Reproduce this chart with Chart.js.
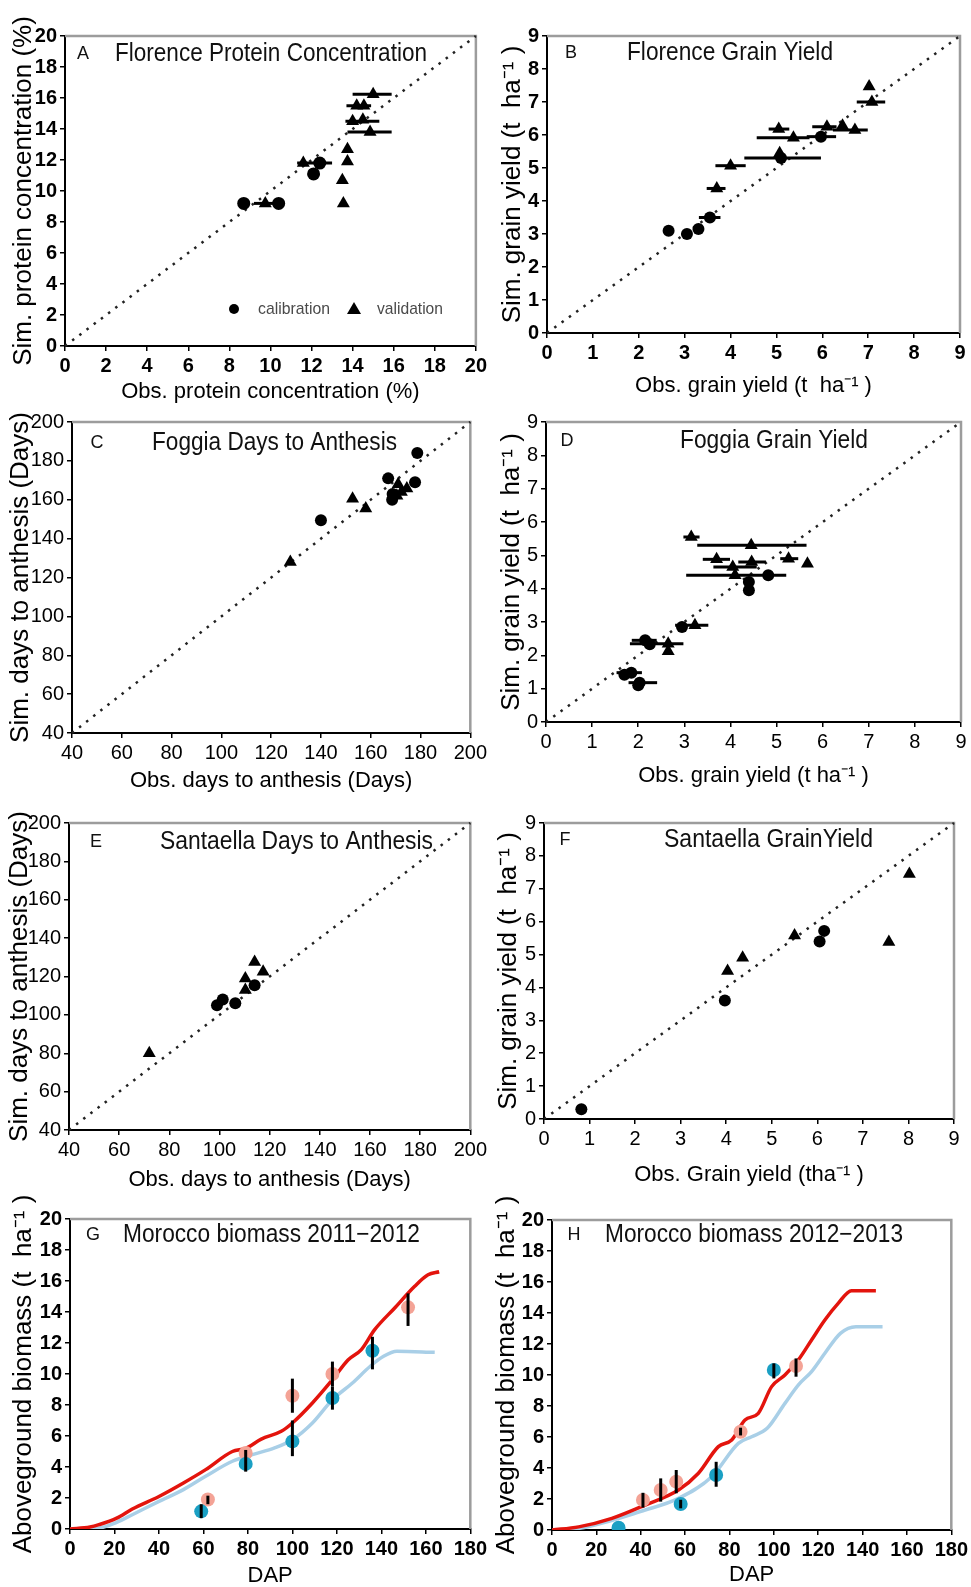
<!DOCTYPE html>
<html>
<head>
<meta charset="utf-8">
<script src="https://cdn.jsdelivr.net/npm/chart.js@4.4.1/dist/chart.umd.min.js"></script>
<style>
  html, body { margin: 0; padding: 0; background: #fff; }
  body { position: relative; width: 971px; height: 1587px; overflow: hidden; }
</style>
</head>
<body>
<script>
// ---- tick labels ----
const protTicks = [0, 2, 4, 6, 8, 10, 12, 14, 16, 18, 20];
const yieldTicks = [0, 1, 2, 3, 4, 5, 6, 7, 8, 9];
const dayTicks = [40, 60, 80, 100, 120, 140, 160, 180, 200];
const dapTicks = [0, 20, 40, 60, 80, 100, 120, 140, 160, 180];
const biomassTicks = [0, 2, 4, 6, 8, 10, 12, 14, 16, 18, 20];

// ---- A: Florence protein concentration (%) ----
const aCalObs = [8.7, 10.4, 12.1, 12.4];
const aCalSim = [9.2, 9.2, 11.1, 11.8];
const aCalLo  = [null, null, null, 11.3];
const aCalHi  = [null, null, null, 13.0];
const aValObs = [9.75, 11.6, 13.55, 13.5, 13.75, 13.75, 14.85, 14.0, 14.5, 14.2, 14.55, 15.0];
const aValSim = [9.2, 11.8, 9.2, 10.7, 11.9, 12.7, 13.8, 14.5, 14.6, 15.5, 15.5, 16.25];
const aValLo  = [9.2, null, null, null, null, null, 13.75, 13.65, null, 13.7, null, 14.0];
const aValHi  = [10.3, null, null, null, null, null, 15.9, 15.3, null, 14.9, null, 15.9];

// ---- B: Florence grain yield (t/ha) ----
const bCalObs = [2.65, 3.05, 3.3, 3.55, 5.1, 5.97];
const bCalSim = [3.1, 3.0, 3.15, 3.5, 5.3, 5.95];
const bCalLo  = [null, null, null, 3.31, 4.3, 5.66];
const bCalHi  = [null, null, null, 3.78, 5.97, 6.3];
const bValObs = [3.7, 4.0, 5.07, 5.05, 5.37, 6.1, 6.44, 6.71, 7.08, 7.02];
const bValSim = [4.38, 5.07, 5.45, 6.18, 5.92, 6.25, 6.28, 6.15, 7.0, 7.47];
const bValLo  = [3.48, 3.67, null, 4.83, 4.57, 5.78, null, 6.23, 6.75, null];
const bValHi  = [3.89, 4.33, null, 5.28, 5.72, 6.31, null, 6.99, 7.37, null];

// ---- C: Foggia days to anthesis ----
const cCalObs = [140, 167, 168.6, 168.8, 177.8, 178.7];
const cCalSim = [149.5, 171, 160, 163, 169, 184];
const cValObs = [127.7, 152.7, 158, 170.5, 171, 172.3, 174.5];
const cValSim = [128, 160.5, 155.5, 162, 168, 164, 165.8];

// ---- D: Foggia grain yield (t/ha) ----
const dCalObs = [1.7, 1.85, 2.0, 2.03, 2.15, 2.25, 2.95, 4.4, 4.4, 4.82];
const dCalSim = [1.42, 1.48, 1.1, 1.18, 2.45, 2.33, 2.85, 4.2, 3.95, 4.4];
const dCalLo  = [null, 1.53, null, 1.79, 1.86, null, null, null, null, null];
const dCalHi  = [null, 2.08, null, 2.41, 2.4, null, null, null, null, null];
const dValObs = [3.15, 4.45, 3.7, 4.46, 5.26, 5.67, 4.05, 4.1, 3.23, 2.65, 2.65];
const dValSim = [5.55, 5.3, 4.88, 4.8, 4.9, 4.75, 4.65, 4.4, 2.9, 2.35, 2.12];
const dValLo  = [2.98, 3.28, 3.4, 4.17, 5.08, null, 3.63, 3.04, 2.8, 1.82, null];
const dValHi  = [3.33, 5.65, 3.99, 4.77, 5.47, null, 4.57, 5.21, 3.52, 2.98, null];

// ---- E: Santaella days to anthesis ----
const eCalObs = [99, 101.3, 106.3, 114];
const eCalSim = [105, 108, 106, 115.5];
const eValObs = [72, 110.3, 110.3, 114, 117.4];
const eValSim = [80, 113, 119, 127.5, 122.5];

// ---- F: Santaella grain yield (t/ha) ----
const fCalObs = [0.82, 3.97, 6.05, 6.15];
const fCalSim = [0.3, 3.6, 5.4, 5.72];
const fValObs = [4.03, 4.36, 5.5, 7.57, 8.02];
const fValSim = [4.5, 4.9, 5.58, 5.38, 7.45];

// ---- G: Morocco biomass 2011-2012 ----
const gRedDap  = [0, 9, 13, 21, 28, 40, 51, 61, 73, 79, 86, 95, 100, 109, 118, 125, 131, 137, 146, 155, 161, 166];
const gRedSim  = [0, 0.13, 0.28, 0.7, 1.29, 2.1, 2.97, 3.83, 5.0, 5.2, 5.8, 6.3, 6.84, 8.13, 9.63, 10.9, 11.57, 12.86, 14.26, 15.66, 16.4, 16.6];
const gBlueDap = [0, 13, 21, 28, 40, 51, 61, 73, 82, 92, 100, 109, 118, 127, 135, 141, 147, 164];
const gBlueSim = [0, 0.06, 0.43, 0.92, 1.78, 2.54, 3.4, 4.37, 4.8, 5.23, 5.76, 6.84, 8.34, 9.42, 10.5, 11.14, 11.46, 11.4];
const gRedObsDap = [62, 79, 100, 118, 152];
const gRedObs    = [1.9, 4.9, 8.6, 10.0, 14.3];
const gRedLo     = [1.6, null, 7.5, 9.2, 13.1];
const gRedHi     = [2.15, null, 9.7, 10.8, 15.2];
const gBlueObsDap = [59, 79, 100, 118, 136];
const gBlueObs    = [1.14, 4.2, 5.65, 8.45, 11.5];
const gBlueLo     = [0.7, 3.7, 4.7, 7.7, 10.3];
const gBlueHi     = [1.6, 5.1, 7.0, 9.2, 12.4];

// ---- H: Morocco biomass 2012-2013 ----
const hRedDap  = [0, 12, 27, 42, 57, 66, 75, 81, 87, 93, 99, 105, 111, 117, 123, 129, 135, 146];
const hRedSim  = [0, 0.2, 0.75, 1.61, 2.58, 3.66, 5.38, 5.81, 7.1, 7.53, 9.25, 10.0, 10.97, 12.26, 13.55, 14.62, 15.44, 15.44];
const hBlueDap = [0, 12, 42, 57, 72, 84, 90, 97, 105, 111, 117, 123, 130, 137, 149];
const hBlueSim = [0, 0.1, 1.29, 2.04, 3.44, 5.59, 6.02, 6.56, 8.17, 9.35, 10.22, 11.4, 12.69, 13.12, 13.12];
const hRedObsDap = [41, 49, 56, 85, 110];
const hRedObs    = [1.94, 2.58, 3.12, 6.34, 10.58];
const hRedLo     = [1.45, 1.83, 2.37, 6.1, 9.89];
const hRedHi     = [2.4, 3.33, 3.87, 6.6, 11.07];
const hBlueObsDap = [30, 58, 74, 100];
const hBlueObs    = [0.15, 1.68, 3.55, 10.32];
const hBlueLo     = [null, 1.4, 2.79, 9.78];
const hBlueHi     = [null, 1.95, 4.4, 10.75];

const FONT = "'Liberation Sans Narrow', 'Liberation Sans', Arial, sans-serif";
const RED = '#e3140d', BLUE = '#a9cfe7', SALMON = '#f4a396', TEAL = '#1aa0c4';

function pts(xs, ys) { return xs.map((x, i) => ({x: x, y: ys[i]})); }

function marker(xs, ys, style, r, color, lo, hi, dir, clip) {
  return {
    data: pts(xs, ys), pointStyle: style, pointRadius: r, pointHoverRadius: r,
    backgroundColor: color, borderColor: color, borderWidth: 0,
    showLine: false, lo: lo, hi: hi, barDir: dir, clip: clip
  };
}

function curve(xs, ys, color) {
  return {
    data: pts(xs, ys), showLine: true, pointRadius: 0, borderColor: color,
    borderWidth: 3.5, cubicInterpolationMode: 'monotone', fill: false
  };
}

function diagonal(ticks) {
  const lo = ticks[0], hi = ticks[ticks.length - 1];
  return {
    data: [{x: lo, y: lo}, {x: hi, y: hi}], showLine: true, pointRadius: 0,
    borderColor: '#222', borderWidth: 2.5, borderDash: [2.5, 6.5], clip: false
  };
}

// error bars: horizontal (obs) or vertical (biomass)
const errorBars = {
  id: 'errorBars',
  afterDatasetsDraw(chart) {
    const ctx = chart.ctx, xs = chart.scales.x, ys = chart.scales.y;
    chart.data.datasets.forEach(ds => {
      if (!ds.lo) return;
      ctx.save();
      ctx.strokeStyle = '#000';
      ctx.lineWidth = 3;
      ds.data.forEach((p, j) => {
        if (ds.lo[j] == null) return;
        ctx.beginPath();
        if (ds.barDir === 'x') {
          const y = ys.getPixelForValue(p.y);
          ctx.moveTo(xs.getPixelForValue(ds.lo[j]), y);
          ctx.lineTo(xs.getPixelForValue(ds.hi[j]), y);
        } else {
          const x = xs.getPixelForValue(p.x);
          ctx.moveTo(x, ys.getPixelForValue(ds.lo[j]));
          ctx.lineTo(x, ys.getPixelForValue(ds.hi[j]));
        }
        ctx.stroke();
      });
      ctx.restore();
    });
  }
};

// grey frame on top and right
const frame = {
  id: 'frame',
  beforeDatasetsDraw(chart) {
    const a = chart.chartArea, ctx = chart.ctx;
    ctx.save();
    ctx.strokeStyle = '#9c9c9c';
    ctx.lineWidth = 2.5;
    ctx.beginPath();
    ctx.moveTo(a.left, a.top);
    ctx.lineTo(a.right, a.top);
    ctx.lineTo(a.right, a.bottom);
    ctx.stroke();
    ctx.restore();
  }
};

// panel letter + title inside plot
const header = {
  id: 'header',
  afterDraw(chart, args, o) {
    if (!o.title) return;
    const ctx = chart.ctx;
    ctx.save();
    ctx.fillStyle = '#111';
    ctx.textBaseline = 'middle';
    ctx.textAlign = 'center';
    ctx.font = '18px ' + FONT;
    ctx.fillText(o.letter, o.lx, o.y);
    ctx.textAlign = 'left';
    ctx.font = '25px ' + FONT;
    ctx.fillText(o.title, o.tx, o.y, o.tw);
    ctx.restore();
  }
};

// little legend of panel A
const calValLegend = {
  id: 'calValLegend',
  afterDraw(chart, args, o) {
    if (!o.show) return;
    const ctx = chart.ctx;
    ctx.save();
    ctx.fillStyle = '#000';
    ctx.beginPath();
    ctx.arc(o.c1, o.y, 5, 0, Math.PI * 2);
    ctx.fill();
    ctx.beginPath();
    ctx.moveTo(o.c2, o.y - 7);
    ctx.lineTo(o.c2 + 7, o.y + 5);
    ctx.lineTo(o.c2 - 7, o.y + 5);
    ctx.closePath();
    ctx.fill();
    ctx.fillStyle = '#4a4a4a';
    ctx.font = '17px ' + FONT;
    ctx.textBaseline = 'middle';
    ctx.fillText('calibration', o.t1, o.y, o.w1);
    ctx.fillText('validation', o.t2, o.y, o.w2);
    ctx.restore();
  }
};

function axis(ticks, title, titleSize, titlePad, tickFont, fit) {
  return {
    type: 'linear',
    min: ticks[0],
    max: ticks[ticks.length - 1],
    afterBuildTicks: s => { s.ticks = ticks.map(v => ({value: v})); },
    ticks: {autoSkip: false, maxRotation: 0, color: '#000', font: tickFont, padding: 3},
    grid: {drawOnChartArea: false, drawTicks: true, tickLength: 5, color: '#000', lineWidth: 1.5},
    border: {display: true, color: '#000', width: 2},
    title: {display: true, text: title, color: '#000', font: {family: FONT, size: titleSize}, padding: titlePad},
    afterFit: fit
  };
}

function makePanel(p) {
  const [bx, by, bw, bh] = p.box;
  const [l, t, r, b] = p.plot;
  const cv = document.createElement('canvas');
  cv.width = bw;
  cv.height = bh;
  cv.style.cssText = 'position:absolute;left:' + bx + 'px;top:' + by + 'px;width:' + bw + 'px;height:' + bh + 'px';
  document.body.appendChild(cv);

  const xSize = 22, ySize = 26;
  const xPad = {top: 0, bottom: (by + bh) - p.xTitleY - xSize * 0.6};
  const yPad = {top: p.yTitleX - bx - ySize * 0.6, bottom: 0};
  const h = p.header;

  new Chart(cv, {
    type: 'scatter',
    data: {datasets: p.datasets},
    plugins: [frame, errorBars, header, calValLegend],
    options: {
      responsive: false,
      animation: false,
      events: [],
      layout: {padding: {left: 0, top: t - by, right: bx + bw - r, bottom: 0}},
      plugins: {
        legend: {display: false},
        tooltip: {enabled: false},
        header: {letter: h.letter, lx: h.lx - bx, title: h.title, tx: h.tx - bx, tw: h.tw, y: h.y - by},
        calValLegend: p.legend
          ? {show: true, c1: 234 - bx, t1: 258 - bx, w1: 72, c2: 354 - bx, t2: 377 - bx, w2: 66, y: 309 - by}
          : {show: false}
      },
      scales: {
        x: axis(p.xTicks, p.xTitle, xSize, xPad, p.tickFont, s => { s.height = by + bh - b; }),
        y: axis(p.yTicks, p.yTitle, ySize, yPad, p.tickFont, s => { s.width = l - bx; })
      }
    }
  });
}

const boldTicks = {family: FONT, size: 20, weight: 'bold'};
const plainTicks = {family: FONT, size: 20};

makePanel({
  box: [0, 0, 490, 409], plot: [65, 36, 477, 346],
  xTicks: protTicks, yTicks: protTicks, tickFont: boldTicks,
  xTitle: 'Obs. protein concentration (%)', yTitle: 'Sim. protein concentration (%)',
  xTitleY: 392, yTitleX: 24, legend: true,
  header: {letter: 'A', lx: 83, title: 'Florence Protein Concentration', tx: 115, tw: 312, y: 54},
  datasets: [
    marker(aCalObs, aCalSim, 'circle', 6.5, '#000', aCalLo, aCalHi, 'x', false),
    marker(aValObs, aValSim, 'triangle', 7.5, '#000', aValLo, aValHi, 'x', false),
    diagonal(protTicks)
  ]
});

makePanel({
  box: [490, 0, 481, 403], plot: [547, 36, 960, 333],
  xTicks: yieldTicks, yTicks: yieldTicks, tickFont: boldTicks,
  xTitle: 'Obs. grain yield (t  ha\u207B\u00B9 )', yTitle: 'Sim. grain yield (t  ha\u207B\u00B9 )',
  xTitleY: 386, yTitleX: 513,
  header: {letter: 'B', lx: 571, title: 'Florence Grain Yield', tx: 627, tw: 206, y: 53},
  datasets: [
    marker(bCalObs, bCalSim, 'circle', 6, '#000', bCalLo, bCalHi, 'x', false),
    marker(bValObs, bValSim, 'triangle', 7.5, '#000', bValLo, bValHi, 'x', false),
    diagonal(yieldTicks)
  ]
});

makePanel({
  box: [0, 405, 490, 394], plot: [72, 422, 476, 733],
  xTicks: dayTicks, yTicks: dayTicks, tickFont: plainTicks,
  xTitle: 'Obs. days to anthesis (Days)', yTitle: 'Sim. days to anthesis (Days)',
  xTitleY: 781, yTitleX: 21,
  header: {letter: 'C', lx: 97, title: 'Foggia Days to Anthesis', tx: 152, tw: 245, y: 443},
  datasets: [
    marker(cCalObs, cCalSim, 'circle', 6, '#000', null, null, 'x', false),
    marker(cValObs, cValSim, 'triangle', 7.5, '#000', null, null, 'x', false),
    diagonal(dayTicks)
  ]
});

makePanel({
  box: [490, 405, 481, 389], plot: [546, 422, 961, 722],
  xTicks: yieldTicks, yTicks: yieldTicks, tickFont: plainTicks,
  xTitle: 'Obs. grain yield (t ha\u207B\u00B9 )', yTitle: 'Sim. grain yield (t  ha\u207B\u00B9 )',
  xTitleY: 776, yTitleX: 512,
  header: {letter: 'D', lx: 567, title: 'Foggia Grain Yield', tx: 680, tw: 188, y: 441},
  datasets: [
    marker(dCalObs, dCalSim, 'circle', 6, '#000', dCalLo, dCalHi, 'x', false),
    marker(dValObs, dValSim, 'triangle', 7.5, '#000', dValLo, dValHi, 'x', false),
    diagonal(yieldTicks)
  ]
});

makePanel({
  box: [0, 795, 490, 401], plot: [69, 823, 472, 1130],
  xTicks: dayTicks, yTicks: dayTicks, tickFont: plainTicks,
  xTitle: 'Obs. days to anthesis (Days)', yTitle: 'Sim. days to anthesis (Days)',
  xTitleY: 1180, yTitleX: 20,
  header: {letter: 'E', lx: 96, title: 'Santaella Days to Anthesis', tx: 160, tw: 273, y: 842},
  datasets: [
    marker(eCalObs, eCalSim, 'circle', 6, '#000', null, null, 'x', false),
    marker(eValObs, eValSim, 'triangle', 7.5, '#000', null, null, 'x', false),
    diagonal(dayTicks)
  ]
});

makePanel({
  box: [490, 795, 481, 396], plot: [544, 823, 954, 1119],
  xTicks: yieldTicks, yTicks: yieldTicks, tickFont: plainTicks,
  xTitle: 'Obs. Grain yield (tha\u207B\u00B9 )', yTitle: 'Sim. grain yield (t  ha\u207B\u00B9 )',
  xTitleY: 1175, yTitleX: 509,
  header: {letter: 'F', lx: 565, title: 'Santaella GrainYield', tx: 664, tw: 209, y: 840},
  datasets: [
    marker(fCalObs, fCalSim, 'circle', 6, '#000', null, null, 'x', false),
    marker(fValObs, fValSim, 'triangle', 7.5, '#000', null, null, 'x', false),
    diagonal(yieldTicks)
  ]
});

makePanel({
  box: [0, 1190, 490, 402], plot: [70, 1219, 473, 1529],
  xTicks: dapTicks, yTicks: biomassTicks, tickFont: boldTicks,
  xTitle: 'DAP', yTitle: 'Aboveground biomass (t  ha\u207B\u00B9 )',
  xTitleY: 1576, yTitleX: 24,
  header: {letter: 'G', lx: 93, title: 'Morocco biomass 2011\u22122012', tx: 123, tw: 297, y: 1235},
  datasets: [
    marker(gBlueObsDap, gBlueObs, 'circle', 7, TEAL, gBlueLo, gBlueHi, 'y'),
    marker(gRedObsDap, gRedObs, 'circle', 7, SALMON, gRedLo, gRedHi, 'y'),
    curve(gRedDap, gRedSim, RED),
    curve(gBlueDap, gBlueSim, BLUE)
  ]
});

makePanel({
  box: [490, 1190, 481, 402], plot: [552, 1220, 955, 1530],
  xTicks: dapTicks, yTicks: biomassTicks, tickFont: boldTicks,
  xTitle: 'DAP', yTitle: 'Aboveground biomass (t  ha\u207B\u00B9 )',
  xTitleY: 1575, yTitleX: 507,
  header: {letter: 'H', lx: 574, title: 'Morocco biomass 2012\u22122013', tx: 605, tw: 298, y: 1235},
  datasets: [
    marker(hBlueObsDap, hBlueObs, 'circle', 7, TEAL, hBlueLo, hBlueHi, 'y'),
    marker(hRedObsDap, hRedObs, 'circle', 7, SALMON, hRedLo, hRedHi, 'y'),
    curve(hRedDap, hRedSim, RED),
    curve(hBlueDap, hBlueSim, BLUE)
  ]
});
</script>
</body>
</html>
